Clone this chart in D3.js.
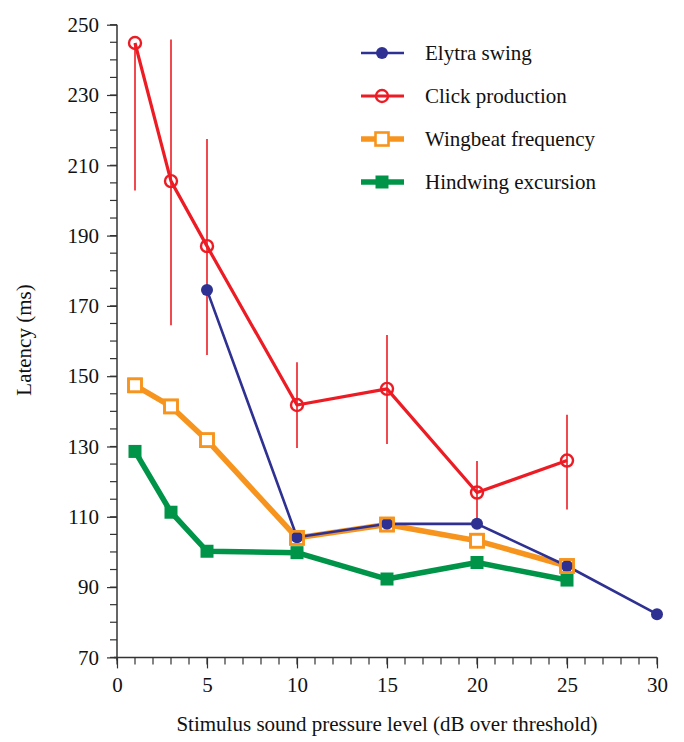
<!DOCTYPE html>
<meta charset="utf-8">
<script src="https://d3js.org/d3.v7.min.js"></script>
<body style="margin:0">
<div id="chart"></div>
<script>

// data
var elytraX = [5, 10, 15, 20, 25, 30];
var elytraY = [174.5, 104.2, 108.0, 108.0, 96.0, 82.3];

var clickX = [1, 3, 5, 10, 15, 20, 25];
var clickY = [244.8, 205.5, 187.0, 141.8, 146.4, 116.9, 126.0];
var clickLow = [202.8, 164.5, 156.0, 129.6, 130.7, 109.6, 112.1];
var clickHigh = [244.8, 245.8, 217.5, 154.0, 161.7, 125.9, 139.0];

var wingX = [1, 3, 5, 10, 15, 20, 25];
var wingY = [147.4, 141.4, 131.8, 104.0, 107.8, 103.2, 96.0];

var hindX = [1, 3, 5, 10, 15, 20, 25];
var hindY = [128.6, 111.3, 100.2, 99.8, 92.3, 97.0, 92.0];

var yTicks = [70, 90, 110, 130, 150, 170, 190, 210, 230, 250];
var xTicks = [0, 5, 10, 15, 20, 25, 30];

var svg = d3.select("#chart")
  .append("svg")
    .attr("width", 684)
    .attr("height", 742)
    .style("display", "block");

var x = d3.scaleLinear().domain([0, 30]).range([117, 657]);
var y = d3.scaleLinear().domain([70, 250]).range([657.4, 24.7]);

var blue = "#2e3192", red = "#ed1c24", orange = "#f7941d", green = "#009448";

function serifText(sel) {
  sel.attr("font-family", null).attr("font-size", null)
    .style("font-family", "Liberation Serif")
    .style("font-size", "21px")
    .style("fill", "#111");
}

// axes
var yAxis = d3.axisLeft(y).tickValues(yTicks).tickSize(10).tickPadding(8);
var gy = svg.append("g").attr("transform", "translate(117,0)").call(yAxis);
gy.attr("font-family", null).attr("font-size", null);
gy.select(".domain").attr("d", "M0," + y(250) + "V" + (y(70) + 3));
gy.selectAll(".tick line").attr("stroke", "#333").attr("stroke-width", 1.2);
gy.selectAll(".tick text").call(serifText);
gy.select(".domain").attr("stroke", "#333").attr("stroke-width", 1.5);
gy.selectAll(".minor").data(d3.range(70, 251, 5))
  .enter().append("line")
    .attr("x1", -7).attr("x2", 0)
    .attr("y1", function(d){ return y(d); }).attr("y2", function(d){ return y(d); })
    .attr("stroke", "#333").attr("stroke-width", 1.2);

var xAxis = d3.axisBottom(x).tickValues(xTicks).tickSize(11).tickPadding(9);
var gx = svg.append("g").attr("transform", "translate(0," + y(70) + ")").call(xAxis);
gx.attr("font-family", null).attr("font-size", null);
gx.select(".domain").attr("d", "M" + (x(0) - 3) + ",0H" + x(30)).attr("stroke", "#333").attr("stroke-width", 1.5);
gx.selectAll(".tick line").attr("stroke", "#333").attr("stroke-width", 1.2);
gx.selectAll(".tick text").call(serifText);
gx.selectAll(".minor").data(d3.range(0, 31, 1))
  .enter().append("line")
    .attr("x1", function(d){ return x(d); }).attr("x2", function(d){ return x(d); })
    .attr("y1", 0).attr("y2", 7)
    .attr("stroke", "#333").attr("stroke-width", 1.2);

svg.append("text")
  .attr("transform", "translate(31,340) rotate(-90)")
  .attr("text-anchor", "middle")
  .call(serifText)
  .text("Latency  (ms)");

svg.append("text")
  .attr("x", 387).attr("y", 731)
  .attr("text-anchor", "middle")
  .call(serifText)
  .text("Stimulus sound pressure level (dB over threshold)");

function pts(xs, ys) { return xs.map(function(d, i){ return [d, ys[i]]; }); }
var line = d3.line().x(function(d){ return x(d[0]); }).y(function(d){ return y(d[1]); });

// error bars
svg.append("g").selectAll("line")
  .data(clickX)
  .enter().append("line")
    .attr("x1", function(d){ return x(d); }).attr("x2", function(d){ return x(d); })
    .attr("y1", function(d, i){ return y(clickLow[i]); })
    .attr("y2", function(d, i){ return y(clickHigh[i]); })
    .attr("stroke", red).attr("stroke-width", 1.6);

// lines
svg.append("path").datum(pts(hindX, hindY)).attr("d", line)
  .attr("fill", "none").attr("stroke", green).attr("stroke-width", 5.5).attr("stroke-linejoin", "round");
svg.append("path").datum(pts(wingX, wingY)).attr("d", line)
  .attr("fill", "none").attr("stroke", orange).attr("stroke-width", 5.5).attr("stroke-linejoin", "round");
svg.append("path").datum(pts(elytraX, elytraY)).attr("d", line)
  .attr("fill", "none").attr("stroke", blue).attr("stroke-width", 2.6).attr("stroke-linejoin", "round");
svg.append("path").datum(pts(clickX, clickY)).attr("d", line)
  .attr("fill", "none").attr("stroke", red).attr("stroke-width", 3.2).attr("stroke-linejoin", "round");

// markers
svg.append("g").selectAll("rect")
  .data(pts(hindX, hindY))
  .enter().append("rect")
    .attr("x", function(d){ return x(d[0]) - 6.5; }).attr("y", function(d){ return y(d[1]) - 6.5; })
    .attr("width", 13).attr("height", 13)
    .attr("fill", green);

svg.append("g").selectAll("rect")
  .data(pts(wingX, wingY))
  .enter().append("rect")
    .attr("x", function(d){ return x(d[0]) - 6.5; }).attr("y", function(d){ return y(d[1]) - 6.5; })
    .attr("width", 13).attr("height", 13)
    .attr("fill", "#fff").attr("stroke", orange).attr("stroke-width", 2.6);

svg.append("g").selectAll("circle")
  .data(pts(elytraX, elytraY))
  .enter().append("circle")
    .attr("cx", function(d){ return x(d[0]); }).attr("cy", function(d){ return y(d[1]); })
    .attr("r", 6)
    .attr("fill", blue);

// orange outlines again on top so the blue dots sit inside them
svg.append("g").selectAll("rect")
  .data(pts(wingX, wingY))
  .enter().append("rect")
    .attr("x", function(d){ return x(d[0]) - 6.5; }).attr("y", function(d){ return y(d[1]) - 6.5; })
    .attr("width", 13).attr("height", 13)
    .attr("fill", "none").attr("stroke", orange).attr("stroke-width", 2.6);

svg.append("g").selectAll("circle")
  .data(pts(clickX, clickY))
  .enter().append("circle")
    .attr("cx", function(d){ return x(d[0]); }).attr("cy", function(d){ return y(d[1]); })
    .attr("r", 6)
    .attr("fill", "none").attr("stroke", red).attr("stroke-width", 2.4);

// legend
var legendNames = ["Elytra swing", "Click production", "Wingbeat frequency", "Hindwing excursion"];
var legendColors = [blue, red, orange, green];
var legendWidths = [2.6, 3.2, 5.5, 5.5];
var leg = svg.append("g").selectAll("g")
  .data(legendNames)
  .enter().append("g")
    .attr("transform", function(d, i){ return "translate(0," + (53 + i * 43) + ")"; });
leg.append("line")
  .attr("x1", 361).attr("x2", 404)
  .attr("stroke", function(d, i){ return legendColors[i]; })
  .attr("stroke-width", function(d, i){ return legendWidths[i]; });
leg.each(function(d, i){
  var g = d3.select(this);
  if (i == 0) g.append("circle").attr("cx", 382).attr("r", 6).attr("fill", blue);
  if (i == 1) g.append("circle").attr("cx", 382).attr("r", 6).attr("fill", "none").attr("stroke", red).attr("stroke-width", 2.4);
  if (i == 2) g.append("rect").attr("x", 375.5).attr("y", -6.5).attr("width", 13).attr("height", 13).attr("fill", "#fff").attr("stroke", orange).attr("stroke-width", 2.6);
  if (i == 3) g.append("rect").attr("x", 375.5).attr("y", -6.5).attr("width", 13).attr("height", 13).attr("fill", green);
});
leg.append("text")
  .attr("x", 425).attr("y", 7)
  .call(serifText)
  .text(function(d){ return d; });

</script>
</body>
